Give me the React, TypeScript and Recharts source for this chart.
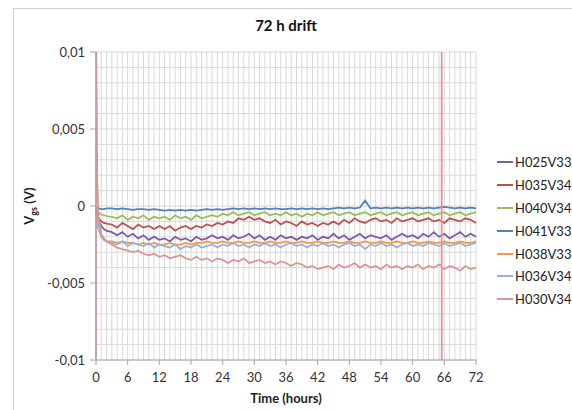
import { LineChart, Line, XAxis, YAxis, CartesianGrid } from 'recharts';

// time stamps in hours (early points are denser)
const EARLY_T = [0, 0.02, 0.25, 0.5, 1, 1.5, 2];
const HOURLY_T = [
  3, 4, 5, 6, 7, 8, 9, 10, 11, 12, 13, 14, 15, 16, 17, 18, 19, 20, 21, 22,
  23, 24, 25, 26, 27, 28, 29, 30, 31, 32, 33, 34, 35, 36, 37, 38, 39, 40, 41, 42,
  43, 44, 45, 46, 47, 48, 49, 50, 51, 52, 53, 54, 55, 56, 57, 58, 59, 60, 61, 62,
  63, 64, 65, 66, 67, 68, 69, 70, 71, 72,
];
// short glitch in H030V34 around 65.5 h
const SPIKE_T = [65.49, 65.5, 65.51, 65.52];
const SPIKE_H030V34 = [-3.9, 12, -12, -4.0];

// values in mV
const H025V33 = [
  0, -0.2, -0.6, -1.0, -1.3, -1.5, -1.6,
  -1.7, -1.9, -1.7, -2.0, -1.8, -2.1, -1.9, -2.2, -2.0, -2.2,
  -2.1, -2.3, -2.0, -2.2, -2.1, -2.3, -2.0, -2.2, -2.1, -1.9,
  -2.1, -2.0, -2.2, -1.9, -2.1, -2.0, -1.8, -2.1, -1.9, -2.2,
  -2.0, -2.2, -1.9, -2.1, -2.0, -2.2, -2.0, -2.1, -1.9, -2.2,
  -2.0, -2.1, -1.8, -2.1, -1.9, -2.2, -2.0, -1.8, -2.1, -1.9,
  -2.0, -2.1, -1.9, -2.2, -2.0, -1.8, -2.0, -1.9, -2.1, -1.8,
  -2.0, -1.7, -2.0, -1.8, -2.1, -1.9, -1.7, -2.0, -1.8, -2.0,
];
const H035V34 = [
  0, -0.2, -0.5, -0.8, -1.0, -1.1, -1.15,
  -1.2, -1.4, -1.1, -1.3, -1.5, -1.2, -1.4, -1.3, -1.5, -1.3,
  -1.5, -1.3, -1.6, -1.4, -1.3, -1.5, -1.3, -1.4, -1.2, -1.3,
  -1.1, -1.2, -1.0, -1.1, -0.8, -0.9, -0.7, -0.9, -0.8, -1.0,
  -1.1, -0.9, -1.2, -1.0, -1.1, -1.3, -1.0, -1.2, -1.1, -1.3,
  -1.1, -1.2, -1.0, -1.2, -0.9, -1.1, -0.8, -1.0, -1.1, -0.9,
  -0.8, -1.0, -0.9, -1.1, -0.8, -1.0, -0.9, -0.8, -1.0, -0.9,
  -0.8, -1.0, -0.9, -1.1, -0.8, -0.9, -1.0, -0.8, -0.9, -1.1,
];
const H040V34 = [
  0, -0.1, -0.3, -0.45, -0.55, -0.6, -0.65,
  -0.7, -0.8, -0.6, -0.9, -0.7, -0.8, -0.6, -0.9, -0.7, -0.8,
  -0.7, -0.9, -0.6, -0.8, -0.7, -0.9, -0.6, -0.8, -0.7, -0.6,
  -0.7, -0.5, -0.6, -0.4, -0.6, -0.5, -0.4, -0.6, -0.5, -0.4,
  -0.6, -0.5, -0.6, -0.4, -0.6, -0.5, -0.7, -0.5, -0.6, -0.4,
  -0.6, -0.5, -0.4, -0.6, -0.5, -0.4, -0.6, -0.5, -0.4, -0.6,
  -0.5, -0.4, -0.6, -0.5, -0.4, -0.6, -0.5, -0.4, -0.6, -0.5,
  -0.4, -0.6, -0.5, -0.4, -0.6, -0.5, -0.4, -0.6, -0.5, -0.4,
];
const H041V33 = [
  0, -0.05, -0.1, -0.15, -0.2, -0.2, -0.15,
  -0.15, -0.2, -0.15, -0.2, -0.25, -0.2, -0.2, -0.25, -0.2, -0.25,
  -0.3, -0.25, -0.3, -0.25, -0.3, -0.25, -0.3, -0.25, -0.2, -0.25,
  -0.2, -0.25, -0.2, -0.15, -0.2, -0.15, -0.2, -0.15, -0.2, -0.15,
  -0.2, -0.15, -0.2, -0.2, -0.15, -0.2, -0.15, -0.2, -0.15, -0.2,
  -0.15, -0.2, -0.15, -0.1, -0.15, -0.1, -0.15, -0.1, 0.35, -0.15,
  -0.1, -0.15, -0.1, -0.15, -0.1, -0.15, -0.1, -0.15, -0.1, -0.15,
  -0.1, -0.15, -0.1, -0.05, -0.1, -0.15, -0.1, -0.15, -0.1, -0.15,
];
const H038V33 = [
  0, -0.3, -0.9, -1.5, -2.0, -2.2, -2.3,
  -2.3, -2.4, -2.3, -2.4, -2.4, -2.5, -2.4, -2.5, -2.4, -2.5,
  -2.5, -2.4, -2.5, -2.5, -2.4, -2.5, -2.4, -2.4, -2.3, -2.4,
  -2.4, -2.3, -2.4, -2.4, -2.3, -2.4, -2.4, -2.3, -2.4, -2.4,
  -2.3, -2.4, -2.4, -2.3, -2.4, -2.4, -2.3, -2.4, -2.4, -2.3,
  -2.4, -2.4, -2.3, -2.4, -2.4, -2.3, -2.4, -2.4, -2.3, -2.4,
  -2.4, -2.3, -2.4, -2.4, -2.3, -2.4, -2.4, -2.3, -2.4, -2.4,
  -2.3, -2.4, -2.4, -2.3, -2.4, -2.4, -2.3, -2.4, -2.4, -2.3,
];
const H036V34 = [
  0, -0.3, -0.9, -1.5, -2.0, -2.2, -2.3,
  -2.4, -2.5, -2.3, -2.6, -2.4, -2.5, -2.6, -2.4, -2.7, -2.5,
  -2.6, -2.7, -2.5, -2.8, -2.6, -2.7, -2.5, -2.7, -2.6, -2.5,
  -2.7, -2.5, -2.6, -2.4, -2.6, -2.5, -2.7, -2.5, -2.6, -2.4,
  -2.6, -2.5, -2.7, -2.5, -2.4, -2.6, -2.5, -2.7, -2.5, -2.6,
  -2.4, -2.6, -2.5, -2.7, -2.5, -2.4, -2.6, -2.5, -2.8, -2.5,
  -2.6, -2.4, -2.6, -2.5, -2.7, -2.5, -2.4, -2.6, -2.5, -2.6,
  -2.4, -2.5, -2.6, -2.4, -2.6, -2.5, -2.4, -2.6, -2.5, -2.4,
];
const H030V34 = [
  -12, 12, 1.5, -0.8, -1.8, -2.1, -2.3,
  -2.5, -2.7, -2.8, -2.9, -3.0, -2.9, -3.1, -3.2, -3.1, -3.3,
  -3.2, -3.4, -3.3, -3.2, -3.4, -3.5, -3.3, -3.5, -3.4, -3.6,
  -3.4, -3.5, -3.7, -3.5, -3.6, -3.4, -3.7, -3.6, -3.5, -3.7,
  -3.6, -3.8, -3.6, -3.7, -3.9, -3.7, -3.8, -4.0, -3.9, -4.1,
  -4.0, -3.9, -4.1, -3.8, -4.0, -3.9, -3.7, -4.0, -3.8, -4.0,
  -3.9, -4.1, -3.8, -4.0, -3.9, -4.1, -3.9, -4.0, -3.8, -4.1,
  -3.9, -4.0, -3.8, -4.1, -3.9, -4.0, -4.2, -3.9, -4.1, -4.0,
];

const SERIES = [
  { key: 'H025V33', values: H025V33, color: '#7D5BA6' },
  { key: 'H035V34', values: H035V34, color: '#C0504D' },
  { key: 'H040V34', values: H040V34, color: '#9BBB59' },
  { key: 'H041V33', values: H041V33, color: '#4F81BD' },
  { key: 'H038V33', values: H038V33, color: '#F79646' },
  { key: 'H036V34', values: H036V34, color: '#95B3D7' },
  { key: 'H030V34', values: H030V34, color: '#D99694' },
];

const X_TICKS = [0, 6, 12, 18, 24, 30, 36, 42, 48, 54, 60, 66, 72];
const Y_TICKS = [-0.01, -0.005, 0, 0.005, 0.01];
// minor gridlines: every hour, every 1 mV
const X_GRID = Array.from({ length: 73 }, (_, i) => i);
const Y_GRID = Array.from({ length: 21 }, (_, i) => (i - 10) / 1000);

const allT = [...EARLY_T, ...HOURLY_T];
const rows: any[] = allT.map((t, i) => {
  const row: any = { t };
  SERIES.forEach(s => { row[s.key] = s.values[i] / 1000; });
  return row;
});
SPIKE_T.forEach((t, i) => rows.push({ t, H030V34: SPIKE_H030V34[i] / 1000 }));
rows.sort((a, b) => a.t - b.t);

const FONT = 'Lato, "Open Sans", sans-serif';
const fmtY = (v: number) => (v === 0 ? '0' : String(v).replace('.', ','));

const gridX = ({ xAxis, offset }: any) =>
  X_GRID.map(v =>
    xAxis && typeof xAxis.scale === 'function'
      ? xAxis.scale(v)
      : offset.left + (v / 72) * offset.width,
  );
const gridY = ({ yAxis, offset }: any) =>
  Y_GRID.map(v =>
    yAxis && typeof yAxis.scale === 'function'
      ? yAxis.scale(v)
      : offset.top + ((0.01 - v) / 0.02) * offset.height,
  );

const YLabel = ({ viewBox }: any) => {
  const cx = 34;
  const cy = viewBox.y + viewBox.height / 2;
  return (
    <text
      x={cx}
      y={cy}
      transform={`rotate(-90, ${cx}, ${cy})`}
      textAnchor="middle"
      fontFamily={FONT}
      fontWeight="bold"
      fontSize={13}
      fill="#222"
    >
      V<tspan fontSize={9} dy={3}>gs</tspan>
      <tspan dy={-3}> (V)</tspan>
    </text>
  );
};

export default function App() {
  return (
    <div style={{ position: 'absolute', left: 0, top: 0, width: 572, height: 410, background: '#fff', overflow: 'hidden' }}>
      <div style={{ position: 'absolute', left: 13, top: 8, width: 600, height: 420, borderLeft: '1px solid #d0d0d0', borderTop: '1px solid #d0d0d0' }} />
      <div style={{ position: 'absolute', left: 0, width: 572, top: 16, textAlign: 'center', fontFamily: FONT, fontWeight: 'bold', fontSize: 15, color: '#111' }}>
        72 h drift
      </div>
      <div style={{ position: 'absolute', left: 96, width: 380, top: 390, textAlign: 'center', fontFamily: FONT, fontWeight: 'bold', fontSize: 13, color: '#222' }}>
        Time (hours)
      </div>
      <LineChart
        width={572}
        height={410}
        data={rows}
        margin={{ top: 52, right: 96, bottom: 30, left: 50 }}
        style={{ position: 'absolute', left: 0, top: 0 }}
      >
        <CartesianGrid
          stroke="#d9d9d9"
          strokeWidth={1}
          verticalCoordinatesGenerator={gridX}
          horizontalCoordinatesGenerator={gridY}
        />
        <XAxis
          type="number"
          dataKey="t"
          domain={[0, 72]}
          ticks={X_TICKS}
          interval={0}
          height={20}
          tick={{ fill: '#333', fontSize: 13, fontFamily: FONT }}
          tickLine={{ stroke: '#a6a6a6' }}
          tickSize={5}
          tickMargin={8}
          axisLine={{ stroke: '#a6a6a6' }}
        />
        <YAxis
          type="number"
          domain={[-0.01, 0.01]}
          allowDataOverflow
          ticks={Y_TICKS}
          interval={0}
          width={46}
          tickFormatter={fmtY}
          tick={{ fill: '#333', fontSize: 13, fontFamily: FONT }}
          tickLine={{ stroke: '#a6a6a6' }}
          tickSize={6}
          tickMargin={5}
          axisLine={{ stroke: '#a6a6a6' }}
          label={<YLabel />}
        />
        {SERIES.map(s => (
          <Line
            key={s.key}
            dataKey={s.key}
            stroke={s.color}
            strokeWidth={1.75}
            dot={false}
            connectNulls
            isAnimationActive={false}
          />
        ))}
      </LineChart>
      <div style={{ position: 'absolute', left: 497, top: 151, fontFamily: FONT, fontSize: 13, color: '#222' }}>
        {SERIES.map(s => (
          <div key={s.key} style={{ display: 'flex', alignItems: 'center', height: 22.8 }}>
            <span style={{ width: 16, height: 2, background: s.color, marginRight: 2 }} />
            {s.key}
          </div>
        ))}
      </div>
    </div>
  );
}
